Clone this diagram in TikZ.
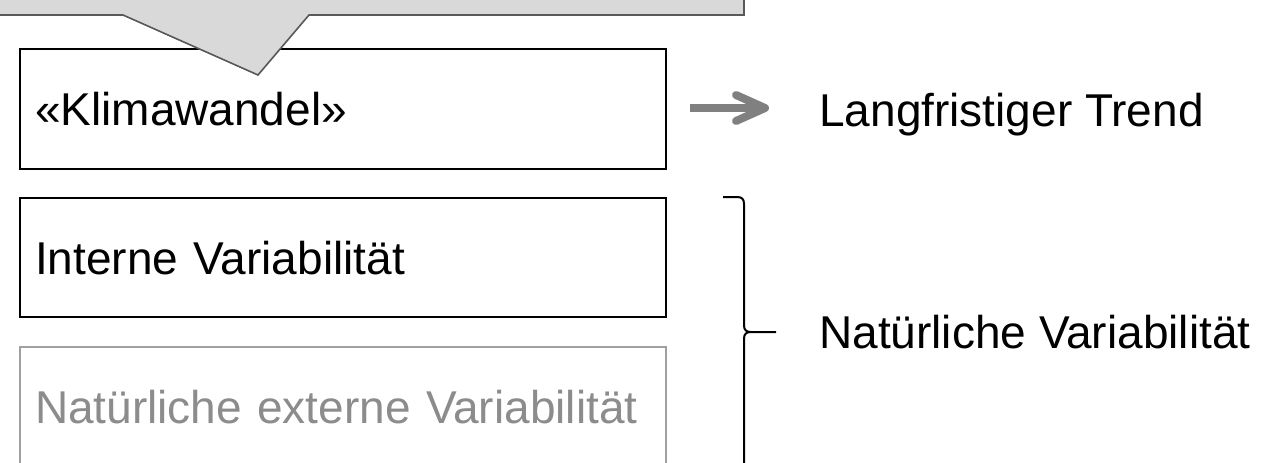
\documentclass[tikz,border=0pt]{standalone}
\usepackage{fontspec}
\setmainfont{Liberation Sans}
\usetikzlibrary{calc}
\definecolor{calloutfill}{HTML}{D9D9D9}
\definecolor{calloutline}{HTML}{595959}
\definecolor{arrowgray}{HTML}{808080}
\definecolor{boxgray}{HTML}{A0A0A0}
\definecolor{textgray}{HTML}{8C8C8C}
\begin{document}
\begin{tikzpicture}[x=0.75pt,y=-0.75pt,
  every node/.style={font=\fontsize{34.5}{40}\selectfont},
  textbox/.style={rectangle, draw, line width=1.5pt, text width=462pt,
    inner xsep=11.25pt, inner ysep=0pt, minimum height=90pt, align=left,
    text height=24.75pt, text depth=0pt},
  label/.style={inner sep=0pt, anchor=base west},
  trendarrow/.style={draw=arrowgray, line width=6pt},
  headline/.style={draw=arrowgray, line width=6pt, line cap=round, line join=round},
  bracestyle/.style={draw=black, line width=1.5pt}
]
\useasboundingbox (0,0) rectangle (1263,462);
\clip (0,0) rectangle (1263,462);
\fill[white] (0,0) rectangle (1263,462);

% boxes
\node[textbox] (k) at (343,109) {«Klimawandel»};
\node[textbox, minimum height=89.25pt] (iv) at (343,257.5) {Interne Variabilität};
\node[textbox, draw=boxgray, text=textgray] (ev) at (343,407) {Natürliche externe Variabilität};

% callout
\path[fill=calloutfill, draw=calloutline, line width=1.2pt, line join=miter]
  (-20,-50) -- (-20,15) -- (123,15) -- (258,75) -- (309,15) -- (744,15) -- (744,-50) -- cycle;

% right labels
\node[label] (trend) at (819,126) {Langfristiger Trend};
\node[label] (nat) at (819,348) {Natürliche Variabilität};

% arrow
\coordinate (as) at ($(k.east)+(23,-1)$);
\coordinate (ae) at ($(k.east -| trend.west)+(-54,-1)$);
\draw[trendarrow] (as) -- ($(ae)+(-4,0)$);
\draw[headline] ($(ae)+(-29,-13)$) -- (ae) -- ($(ae)+(-29,13)$);

% brace
\coordinate (bt) at ($(iv.north east)+(56,0)$);
\coordinate (bm) at ($(iv.north east)+(109,135)$);
\draw[bracestyle] (bt) -- ($(bt)+(14,0)$)
  .. controls ($(bt)+(19,0)$) and ($(bt)+(21,2)$) .. ($(bt)+(21,7)$)
  -- ($(bt)+(21,128)$)
  .. controls ($(bt)+(21,133)$) and ($(bt)+(23,135)$) .. ($(bt)+(28,135)$)
  -- ($(bt)+(53,135)$);
\draw[bracestyle] ($(bt)+(28,135)$)
  .. controls ($(bt)+(23,135)$) and ($(bt)+(21,137)$) .. ($(bt)+(21,142)$)
  -- ($(bt)+(21,280)$);
\end{tikzpicture}
\end{document}
